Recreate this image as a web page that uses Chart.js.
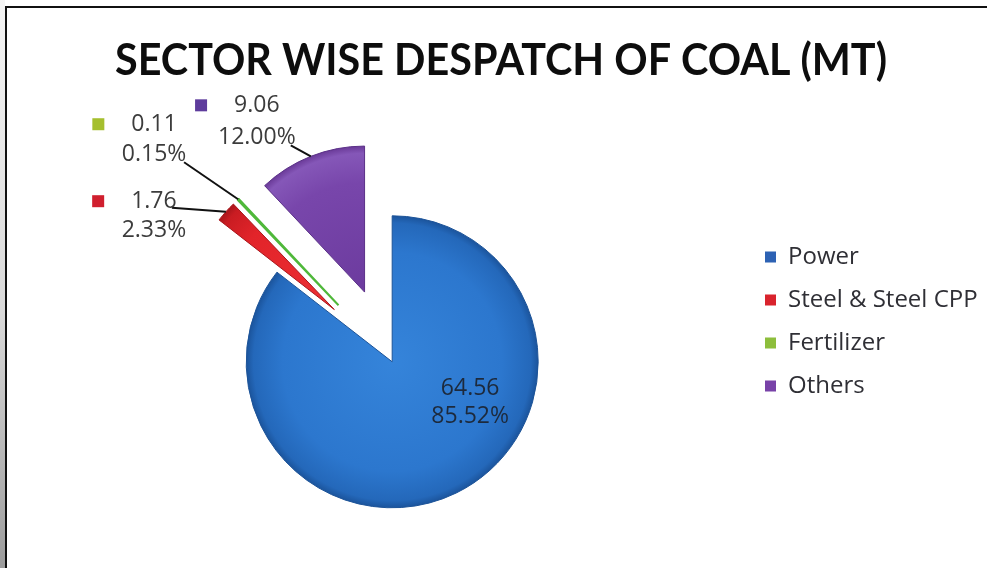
<!DOCTYPE html>
<html>
<head>
<meta charset="utf-8">
<script src="https://cdn.jsdelivr.net/npm/chart.js@4.4.1/dist/chart.umd.min.js"></script>
<style>
  html, body { margin: 0; padding: 0; background: #ffffff; }
  #wrap { position: relative; width: 987px; height: 568px; overflow: hidden; background: #ffffff; }
  #edge { position: absolute; left: 0; top: 0; width: 5px; height: 568px;
          background: linear-gradient(to bottom, #f4f4f4 0%, #d9d9d9 55%, #9c9c9c 100%); }
  #frame { position: absolute; left: 5px; top: 6px; width: 1000px; height: 600px;
           border-top: 2px solid #111; border-left: 2px solid #111; box-sizing: border-box; pointer-events: none; }
  canvas { position: absolute; left: 0; top: 0; }
</style>
</head>
<body>
<div id="wrap">
  <div id="edge"></div>
  <canvas id="chart" width="987" height="568"></canvas>
  <div id="frame"></div>
</div>
<script>
// ---------- data ----------
const chartTitle = 'SECTOR WISE DESPATCH OF COAL (MT)';
const categories = ['Power', 'Steel & Steel CPP', 'Fertilizer', 'Others'];
const despatchMT = [64.56, 1.76, 0.11, 9.06];

// ---------- style ----------
const sliceStops = [
  ['#3584DA', '#2C77CE', '#2468BA', '#1B549C'],   // Power
  ['#EC2F33', '#E2242A', '#C91C22', '#A8151A'],   // Steel
  ['#F2FAEE', '#CDEBC0', '#66C448', '#4AA232'],   // Fertilizer
  ['#6C3B9E', '#7846AB', '#8557B8', '#6A3A98']    // Others
];
const sliceBorder = ['#1C5398', '#A8161B', '#4FB83A', '#5B3188'];
const sliceBorderWidth = [1, 1, 2, 1];
const legendColors = ['#2D62B4', '#D9232D', '#8DBE3C', '#7842A8'];
const keyColors = ['#2D62B4', '#D01F2E', '#A5BF2E', '#5E3C9C'];
const explodePx = [0, 78, 78, 75];
const PIE_RADIUS = 146;
const labelFont = '23px "Open Sans", sans-serif';
// label block placement relative to the slice's outer mid-point (or pie centre when inside)
const labelPlacement = [
  { inside: true, dx: 78, dy: 41, gap: 28, color: '#1d2a3c', key: false },
  { dx: -72, dy: 4,   lx: -54, ly: -4,  gap: 29, color: '#3c3c3c', key: true },
  { dx: -84, dy: -60, lx: -54, ly: -37, gap: 30, color: '#3c3c3c', key: true },
  { dx: -54, dy: -35, lx: -20, ly: -11, gap: 32, color: '#3c3c3c', key: true }
];
const KEY_GAP = 33, KEY_SIZE = 12;
const TITLE_BOX = { left: 115, right: 887 };
const LEGEND_BOX = { left: 746, top: 150, bottom: 493 };

// ---------- plugins ----------
const layoutTweak = {
  id: 'layoutTweak',
  afterLayout(chart) {
    const t = chart.titleBlock;
    if (t) { t.left = TITLE_BOX.left; t.right = TITLE_BOX.right; t.width = t.right - t.left; }
    const l = chart.legend;
    if (l) {
      const w = l.width;
      l.left = LEGEND_BOX.left; l.right = l.left + w;
      l.top = LEGEND_BOX.top; l.bottom = LEGEND_BOX.bottom; l.height = l.bottom - l.top;
    }
  }
};

const explodePlugin = {
  id: 'explode',
  beforeDatasetDraw(chart, args) {
    const ctx = chart.ctx;
    args.meta.data.forEach((arc, i) => {
      const e = explodePx[i] || 0;
      const mid = (arc.startAngle + arc.endAngle) / 2;
      ctx.save();
      ctx.translate(Math.cos(mid) * e, Math.sin(mid) * e);
      arc.draw(ctx, chart.chartArea);
      ctx.restore();
    });
    return false;
  }
};

const labelPlugin = {
  id: 'sliceLabels',
  afterDatasetsDraw(chart) {
    const ctx = chart.ctx;
    const meta = chart.getDatasetMeta(0);
    const total = despatchMT.reduce((a, b) => a + b, 0);
    meta.data.forEach((arc, i) => {
      const p = labelPlacement[i];
      const mid = (arc.startAngle + arc.endAngle) / 2;
      const e = explodePx[i] || 0;
      const cx = arc.x + Math.cos(mid) * e, cy = arc.y + Math.sin(mid) * e;
      const line1 = despatchMT[i].toFixed(2);
      const line2 = (despatchMT[i] / total * 100).toFixed(2) + '%';
      let bx, by;
      ctx.save();
      if (p.inside) {
        bx = arc.x + p.dx; by = arc.y + p.dy;
      } else {
        const ax = cx + Math.cos(mid) * arc.outerRadius;
        const ay = cy + Math.sin(mid) * arc.outerRadius;
        bx = ax + p.dx; by = ay + p.dy;
        ctx.strokeStyle = '#111111'; ctx.lineWidth = 2;
        ctx.beginPath(); ctx.moveTo(ax, ay); ctx.lineTo(ax + p.lx, ay + p.ly); ctx.stroke();
      }
      ctx.font = labelFont;
      ctx.fillStyle = p.color;
      ctx.textAlign = 'center';
      ctx.textBaseline = 'middle';
      ctx.fillText(line1, bx, by - p.gap / 2);
      ctx.fillText(line2, bx, by + p.gap / 2);
      if (p.key) {
        const w = ctx.measureText(line1).width;
        const kx = bx - w / 2 - KEY_GAP, ky = by - p.gap / 2;
        ctx.fillStyle = keyColors[i];
        ctx.fillRect(kx - KEY_SIZE / 2, ky - KEY_SIZE / 2, KEY_SIZE, KEY_SIZE);
      }
      ctx.restore();
    });
  }
};

function sliceFill(context) {
  const chart = context.chart;
  const ca = chart.chartArea;
  const stops = sliceStops[context.dataIndex] || sliceStops[0];
  if (!ca) return stops[1];
  const cx = (ca.left + ca.right) / 2, cy = (ca.top + ca.bottom) / 2;
  const g = chart.ctx.createRadialGradient(cx, cy, 0, cx, cy, PIE_RADIUS);
  g.addColorStop(0, stops[0]);
  g.addColorStop(0.75, stops[1]);
  g.addColorStop(0.95, stops[2]);
  g.addColorStop(1, stops[3]);
  return g;
}

new Chart(document.getElementById('chart'), {
  type: 'pie',
  data: {
    labels: categories,
    datasets: [{
      data: despatchMT,
      backgroundColor: sliceFill,
      borderColor: sliceBorder,
      borderWidth: sliceBorderWidth,
      radius: PIE_RADIUS
    }]
  },
  options: {
    responsive: false,
    animation: false,
    events: [],
    layout: { padding: { left: 39, right: 0, top: 0, bottom: 0 } },
    plugins: {
      tooltip: { enabled: false },
      title: {
        display: true,
        text: chartTitle,
        color: '#0d0d0d',
        font: { family: 'Lato, "Liberation Sans", sans-serif', size: 43, weight: 'bold' },
        padding: { top: 35, bottom: 69 }
      },
      legend: {
        position: 'right',
        labels: {
          boxWidth: 11,
          boxHeight: 11,
          padding: 19,
          color: '#2f2f35',
          font: { family: '"Open Sans", sans-serif', size: 24 },
          generateLabels: () => categories.map((name, i) => ({
            text: name, fillStyle: legendColors[i], strokeStyle: legendColors[i],
            lineWidth: 0, hidden: false, index: i, fontColor: '#2f2f35'
          }))
        }
      }
    }
  },
  plugins: [layoutTweak, explodePlugin, labelPlugin]
});
</script>
</body>
</html>
